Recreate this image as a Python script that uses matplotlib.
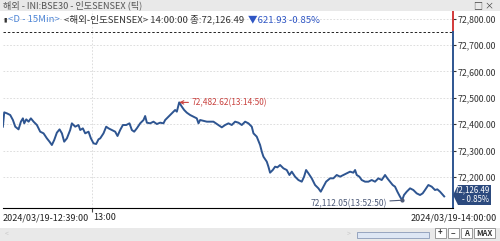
import matplotlib
matplotlib.use('Agg')
import matplotlib.pyplot as plt
from matplotlib.patches import Rectangle, Polygon

plt.rcParams['font.family'] = ['Noto Sans CJK KR', 'DejaVu Sans']

# 13:00 기준 경과 시간(분)과 지수값
minutes = [-15.22, -14.99, -14.53, -13.97, -13.51, -13.11, -12.55, -12.15, -11.81, -11.58,
           -11.24, -10.84, -10.45, -9.99, -9.42, -8.86, -8.29, -7.72, -7.27, -6.87,
           -6.47, -6.02, -5.56, -5.16, -4.77, -4.31, -3.75, -3.46, -2.89, -2.33,
           -2.04, -1.59, -1.19, -0.62, -0.22, 0.23, 0.68, 1.08, 1.37, 1.93,
           2.39, 2.79, 3.35, 3.92, 4.32, 4.77, 5.23, 5.80, 6.36, 6.76,
           7.16, 7.61, 8.18, 8.75, 9.03, 9.32, 9.88, 10.45, 11.02, 11.59,
           12.15, 12.44, 13.01, 13.57, 14.14, 14.43, 14.83, 15.28, 15.68, 16.13,
           16.70, 17.27, 17.83, 18.12, 18.40, 19.54, 20.67, 21.52, 22.09, 22.66,
           23.23, 23.79, 24.36, 24.93, 25.50, 26.07, 26.63, 27.20, 27.49, 28.05,
           28.62, 28.91, 29.19, 29.76, 30.04, 30.32, 30.78, 31.18, 31.57, 32.03,
           32.60, 33.16, 33.62, 34.02, 34.58, 35.15, 35.72, 36.12, 36.46, 36.86,
           37.42, 37.99, 38.56, 38.96, 39.41, 39.87, 40.55, 41.11, 41.68, 42.25,
           42.82, 43.39, 43.95, 44.52, 44.81, 45.09, 45.54, 45.94, 46.51, 47.08,
           47.64, 48.21, 48.78, 49.35, 49.92, 50.31, 50.77, 51.22, 51.62, 52.02,
           52.47, 52.83, 53.15, 53.61, 54.18, 54.74, 55.31, 55.88, 56.33, 56.73,
           57.30, 57.87, 58.43, 58.83, 59.29, 60.00]
prices = [72390.6, 72444.9, 72441.1, 72434.8, 72415.9, 72390.6, 72380.5, 72409.6, 72422.2, 72403.3,
          72418.4, 72409.6, 72422.2, 72409.6, 72396.9, 72371.7, 72365.4, 72346.4, 72333.8, 72321.2,
          72340.1, 72367.9, 72380.5, 72365.4, 72333.8, 72346.4, 72378.0, 72403.3, 72390.6, 72396.9,
          72378.0, 72384.3, 72365.4, 72371.7, 72346.4, 72327.5, 72325.0, 72342.7, 72346.4, 72365.4,
          72390.6, 72384.3, 72378.0, 72371.7, 72355.3, 72378.0, 72396.9, 72396.9, 72403.3, 72378.0,
          72371.7, 72384.3, 72403.3, 72415.9, 72431.0, 72405.8, 72403.3, 72409.6, 72400.7, 72405.8,
          72403.3, 72415.9, 72428.5, 72441.1, 72453.8, 72447.5, 72482.62, 72466.4, 72453.8, 72443.7,
          72434.8, 72428.5, 72422.2, 72403.3, 72415.9, 72409.6, 72409.6, 72397.0, 72388.1, 72397.0,
          72403.3, 72397.0, 72409.6, 72405.8, 72397.0, 72409.6, 72403.3, 72390.6, 72365.4, 72352.8,
          72321.2, 72296.0, 72277.0, 72258.1, 72239.1, 72216.4, 72226.5, 72239.1, 72236.6, 72245.4,
          72232.8, 72226.5, 72207.6, 72220.2, 72201.3, 72188.6, 72182.3, 72201.3, 72226.5, 72213.9,
          72195.0, 72169.7, 72157.1, 72144.4, 72163.4, 72182.3, 72195.0, 72195.0, 72207.6, 72201.3,
          72207.6, 72213.9, 72220.2, 72216.4, 72226.5, 72207.6, 72201.3, 72188.6, 72182.3, 72182.3,
          72188.6, 72182.3, 72195.0, 72188.6, 72207.6, 72195.0, 72182.3, 72169.7, 72163.4, 72144.4,
          72125.5, 72112.05, 72131.8, 72144.4, 72157.1, 72150.8, 72138.1, 72131.8, 72138.1, 72150.8,
          72169.7, 72163.4, 72150.8, 72153.3, 72144.4, 72126.49]

y_ticks = [72200, 72300, 72400, 72500, 72600, 72700, 72800]
y_labels = ['72,200.00', '72,300.00', '72,400.00', '72,500.00', '72,600.00', '72,700.00', '72,800.00']
prev_close = 72748.42
max_time, max_price = 14.83, 72482.62
min_time, min_price = 52.83, 72112.05
last_price = 72126.49

W, H = 500, 241
fig = plt.figure(figsize=(5, 2.41), dpi=100)
fig.patch.set_facecolor('white')


def fx(x):
    return x / W


def fy(y):
    return 1 - y / H


# 상단 제목줄
fig.patches.append(Rectangle((0, fy(11)), 1, 11 / H, transform=fig.transFigure,
                             facecolor='#e9e9e9', edgecolor='none', zorder=0))
fig.text(fx(3), fy(5.5), '해외 - INI:BSE30 - 인도SENSEX (틱)', fontsize=6.6,
         color='#555555', va='center', ha='left')
fig.text(fx(484), fy(5.5), '□ ×', fontsize=6.5, color='#444444', va='center', ha='center')

# 하단 스크롤바 영역
fig.patches.append(Rectangle((0, 0), 1, 13 / H, transform=fig.transFigure,
                             facecolor='#e9e9e9', edgecolor='none', zorder=0))
fig.text(fx(5), fy(234), '<', fontsize=5, color='#c8c8c8', va='center')
fig.text(fx(347), fy(234), '>', fontsize=5, color='#c8c8c8', va='center')
fig.patches.append(Rectangle((fx(357), fy(238)), 72 / W, 6 / H, transform=fig.transFigure,
                             facecolor='#dde6f4', edgecolor='#8a9ab8', lw=0.6, zorder=1))
for bx, lab in [(440, '+'), (453, '−'), (466, 'A'), (484, 'MAX')]:
    bw = 21 if lab == 'MAX' else 11
    fig.patches.append(Rectangle((fx(bx - bw / 2), fy(238)), bw / W, 10 / H,
                                 transform=fig.transFigure, facecolor='white',
                                 edgecolor='#8a8a8a', lw=0.6, zorder=1))
    fig.text(fx(bx), fy(233), lab, fontsize=5.5, fontweight='bold', color='#333333',
             ha='center', va='center')

ax = fig.add_axes([fx(3), fy(208), 450 / W, 197 / H])
ax.plot(minutes, prices, color='#2e5591', lw=1.4, solid_joinstyle='round')
ax.set_xlim(-15.2, 61.5)
ax.set_ylim(72082.6, 72828.8)

for s in ['top', 'left', 'right']:
    ax.spines[s].set_visible(False)
ax.spines['bottom'].set_color('black')
ax.spines['bottom'].set_linewidth(0.8)

ax.grid(True, axis='y', color='#d8d8d8', linestyle=(0, (2, 2)), lw=0.6)
ax.grid(True, axis='x', color='#d8d8d8', linestyle=(0, (2, 2)), lw=0.6)
ax.axhline(prev_close, color='#222222', linestyle=(0, (2.5, 2)), lw=0.7)

ax.yaxis.tick_right()
ax.set_yticks(y_ticks)
ax.set_yticklabels(y_labels)
ax.tick_params(axis='y', length=2, pad=1, labelsize=6.3, colors='#333333')
ax.set_xticks([0])
ax.set_xticklabels([''])
ax.tick_params(axis='x', length=3, direction='out', colors='#444444')

# 오른쪽 축선 (전일 종가 위는 빨강, 아래는 파랑)
yt = ax.get_yaxis_transform()
ax.plot([1, 1], [prev_close, 72828.8], color='#d23a3a', lw=1.4, transform=yt, clip_on=False)
ax.plot([1, 1], [72082.6, prev_close], color='#2e5591', lw=1.4, transform=yt, clip_on=False)

# 헤더 텍스트
ax.text(0.0, 0.955, '▮', transform=ax.transAxes, fontsize=4.5, color='#333333', va='center')
t1 = ax.text(0.012, 0.955, '<D - 15Min>', transform=ax.transAxes, fontsize=6.9,
             color='#4f86d6', va='center')
fig.canvas.draw()
r = fig.canvas.get_renderer()
bb = t1.get_window_extent(r)
inv = ax.transAxes.inverted()
x1 = inv.transform((bb.x1, bb.y0))[0]
t2 = ax.text(x1 + 0.008, 0.955, '<해외-인도SENSEX> 14:00:00 종:72,126.49',
             transform=ax.transAxes, fontsize=6.9, color='#333333', va='center')
bb = t2.get_window_extent(r)
x2 = inv.transform((bb.x1, bb.y0))[0]
ax.text(x2 + 0.01, 0.955, '▼621.93 -0.85%', transform=ax.transAxes, fontsize=6.9,
        color='#2f56c4', va='center')

# 최고/최저 표시
ax.annotate('72,482.62(13:14:50)', xy=(max_time, max_price), xytext=(12, 0),
            textcoords='offset pixels', fontsize=6.0, color='#c9423f', va='center',
            arrowprops=dict(arrowstyle='->', color='#c9423f', lw=0.8, shrinkA=0, shrinkB=0))
ax.annotate('72,112.05(13:52:50)', xy=(min_time, min_price), xytext=(-15, -3),
            textcoords='offset pixels', fontsize=6.1, color='#4d5a78', va='center', ha='right',
            arrowprops=dict(arrowstyle='-', color='#4d5a78', lw=0.8, shrinkA=0, shrinkB=0))
ax.plot([min_time], [min_price], marker='o', ms=2, color='#4d5a78')

# 현재가 박스
box = Polygon([(fx(453), fy(195)), (fx(458), fy(185)), (fx(491), fy(185)),
               (fx(491), fy(205)), (fx(458), fy(205))], closed=True,
              transform=fig.transFigure, facecolor='#2c4a7e', edgecolor='none', zorder=3)
fig.patches.append(box)
fig.text(fx(489.5), fy(190), '72,126.49', fontsize=5.7, color='white', ha='right', va='center', zorder=4)
fig.text(fx(489.5), fy(200), '- 0.85%', fontsize=5.7, color='white', ha='right', va='center', zorder=4)

# 하단 시간 라벨
fig.text(fx(3), fy(218), '2024/03/19-12:39:00', fontsize=6.5, color='#222222', va='center')
fig.text(fx(93), fy(218), '13:00', fontsize=6.5, color='#222222', va='center')
fig.text(fx(497), fy(218), '2024/03/19-14:00:00', fontsize=6.5, color='#222222',
         va='center', ha='right')

fig.savefig('out.png', dpi=100, facecolor='white')
